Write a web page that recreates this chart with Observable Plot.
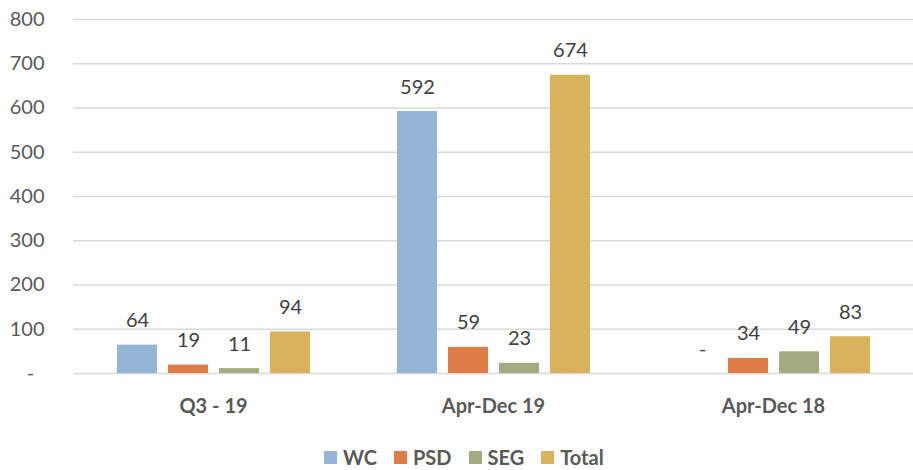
<!DOCTYPE html>
<html>
<head>
<meta charset="utf-8">
<script src="https://cdn.jsdelivr.net/npm/d3@7"></script>
<script src="https://cdn.jsdelivr.net/npm/@observablehq/plot@0.6"></script>
<style>
  html, body { margin: 0; padding: 0; background: #fff; }
  #wrap { position: relative; width: 913px; height: 470px; overflow: hidden; font-family: Lato, "Open Sans", sans-serif; }
  #legend { position: absolute; left: 324px; top: 442px; height: 30px; display: flex; align-items: center; font-weight: bold; font-size: 20px; color: #595959; }
  #legend .item { display: flex; align-items: center; margin-right: 17px; }
  #legend .sw { width: 13px; height: 13px; margin-right: 6px; }
</style>
</head>
<body>
<div id="wrap"><div id="chart"></div><div id="legend"></div></div>
<script>
const groups = ["Q3 - 19", "Apr-Dec 19", "Apr-Dec 18"];
const series = ["WC", "PSD", "SEG", "Total"];
const wcValues = [64, 592, 0];
const psdValues = [19, 59, 34];
const segValues = [11, 23, 49];
const totalValues = [94, 674, 83];
const yTicks = [0, 100, 200, 300, 400, 500, 600, 700, 800];
const colors = ["#94B5D5", "#E07D46", "#A4AB80", "#D8B25C"];

const valuesBySeries = [wcValues, psdValues, segValues, totalValues];
const data = [];
groups.forEach((g, gi) => {
  series.forEach((s, si) => {
    data.push({group: g, series: s, value: valuesBySeries[si][gi]});
  });
});

const chart = Plot.plot({
  width: 913,
  height: 440,
  marginLeft: 73,
  marginRight: 0,
  marginTop: 19,
  marginBottom: 67,
  style: {fontFamily: "Lato, 'Open Sans', sans-serif", fontSize: "20px", color: "#595959", background: "#fff"},
  fx: {domain: groups, padding: 0, label: null},
  x: {domain: series, paddingInner: 0.22, paddingOuter: 0.85, axis: null},
  y: {domain: [0, 800], axis: null},
  color: {domain: series, range: colors},
  marks: [
    Plot.gridY(yTicks, {stroke: "#d9d9d9", strokeOpacity: 1, strokeWidth: 1.5}),
    Plot.barY(data, {fx: "group", x: "series", y: "value", fill: "series"}),
    Plot.text(data, {
      fx: "group", x: "series", y: "value",
      text: d => d.value === 0 ? "\u00a0\u00a0-" : String(d.value),
      lineAnchor: "bottom", dy: -18, fill: "#404040", fontSize: 20
    }),
    Plot.axisY(yTicks, {
      tickSize: 0, tickPadding: 29, fontSize: 20, label: null,
      tickFormat: d => d === 0 ? "-\u00a0\u00a0" : String(d)
    }),
    Plot.axisFx({anchor: "bottom", tickSize: 0, tickPadding: 25, fontSize: 20, fontWeight: "bold", label: null})
  ]
});
document.getElementById("chart").appendChild(chart);

const legend = document.getElementById("legend");
series.forEach((s, i) => {
  const item = document.createElement("div");
  item.className = "item";
  const sw = document.createElement("div");
  sw.className = "sw";
  sw.style.background = colors[i];
  const lab = document.createElement("span");
  lab.textContent = s;
  item.appendChild(sw);
  item.appendChild(lab);
  legend.appendChild(item);
});
</script>
</body>
</html>
